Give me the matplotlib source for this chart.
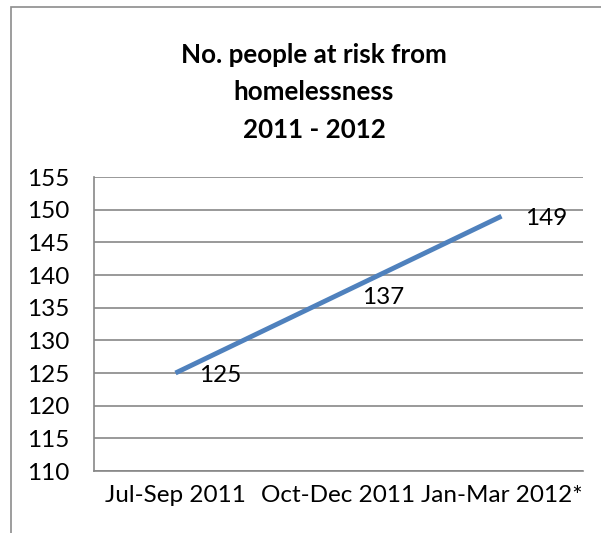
import matplotlib
matplotlib.use("Agg")
import matplotlib.pyplot as plt
from matplotlib.patches import Rectangle

quarters = ["Jul-Sep 2011", "Oct-Dec 2011", "Jan-Mar 2012*"]
people_at_risk = [125, 137, 149]
y_ticks = [110, 115, 120, 125, 130, 135, 140, 145, 150, 155]
title_lines = ["No. people at risk from", "homelessness", "2011 - 2012"]

W, H = 601, 533
fig = plt.figure(figsize=(W / 100, H / 100), dpi=100)
fig.patch.set_facecolor("white")
plt.rcParams["font.family"] = ["Lato", "DejaVu Sans"]

# plot area in pixel coordinates
left, right, top, bottom = 94, 583, 177, 471
ax = fig.add_axes([left / W, 1 - bottom / H, (right - left) / W, (bottom - top) / H])

x = list(range(len(quarters)))
ax.plot(x, people_at_risk, color="#4F81BD", linewidth=3.5, solid_capstyle="butt")
ax.set_xlim(-0.5, len(quarters) - 0.5)
ax.set_ylim(y_ticks[0], y_ticks[-1])
ax.set_yticks(y_ticks)
ax.set_xticks(x)
ax.set_xticklabels(quarters, fontsize=17.5)
ax.set_yticklabels([str(v) for v in y_ticks], fontsize=17.5)
ax.tick_params(axis="both", length=0, colors="black")
ax.tick_params(axis="y", pad=18)
ax.tick_params(axis="x", pad=10)
ax.grid(axis="y", color="#878787", linewidth=1.2)
ax.set_axisbelow(True)
for side in ["top", "right"]:
    ax.spines[side].set_visible(False)
for side in ["left", "bottom"]:
    ax.spines[side].set_color("#878787")
    ax.spines[side].set_linewidth(1.2)

for xi, v in zip(x, people_at_risk):
    ax.annotate(str(v), (xi, v), xytext=(17, -2), textcoords="offset points",
                ha="left", va="center", fontsize=17.5)

# chart title
title_y = [55, 92, 130]
for line, ty in zip(title_lines, title_y):
    fig.text(314 / W, 1 - ty / H, line, ha="center", va="center",
             fontsize=18.7, fontweight="bold")

# chart frame
fig.patches.append(Rectangle((11 / W, -0.1), 1.2, 1 - 7 / H + 0.1,
                             transform=fig.transFigure, fill=False,
                             edgecolor="#8c8c8c", linewidth=1.2))

fig.savefig("out.png", dpi=100)
